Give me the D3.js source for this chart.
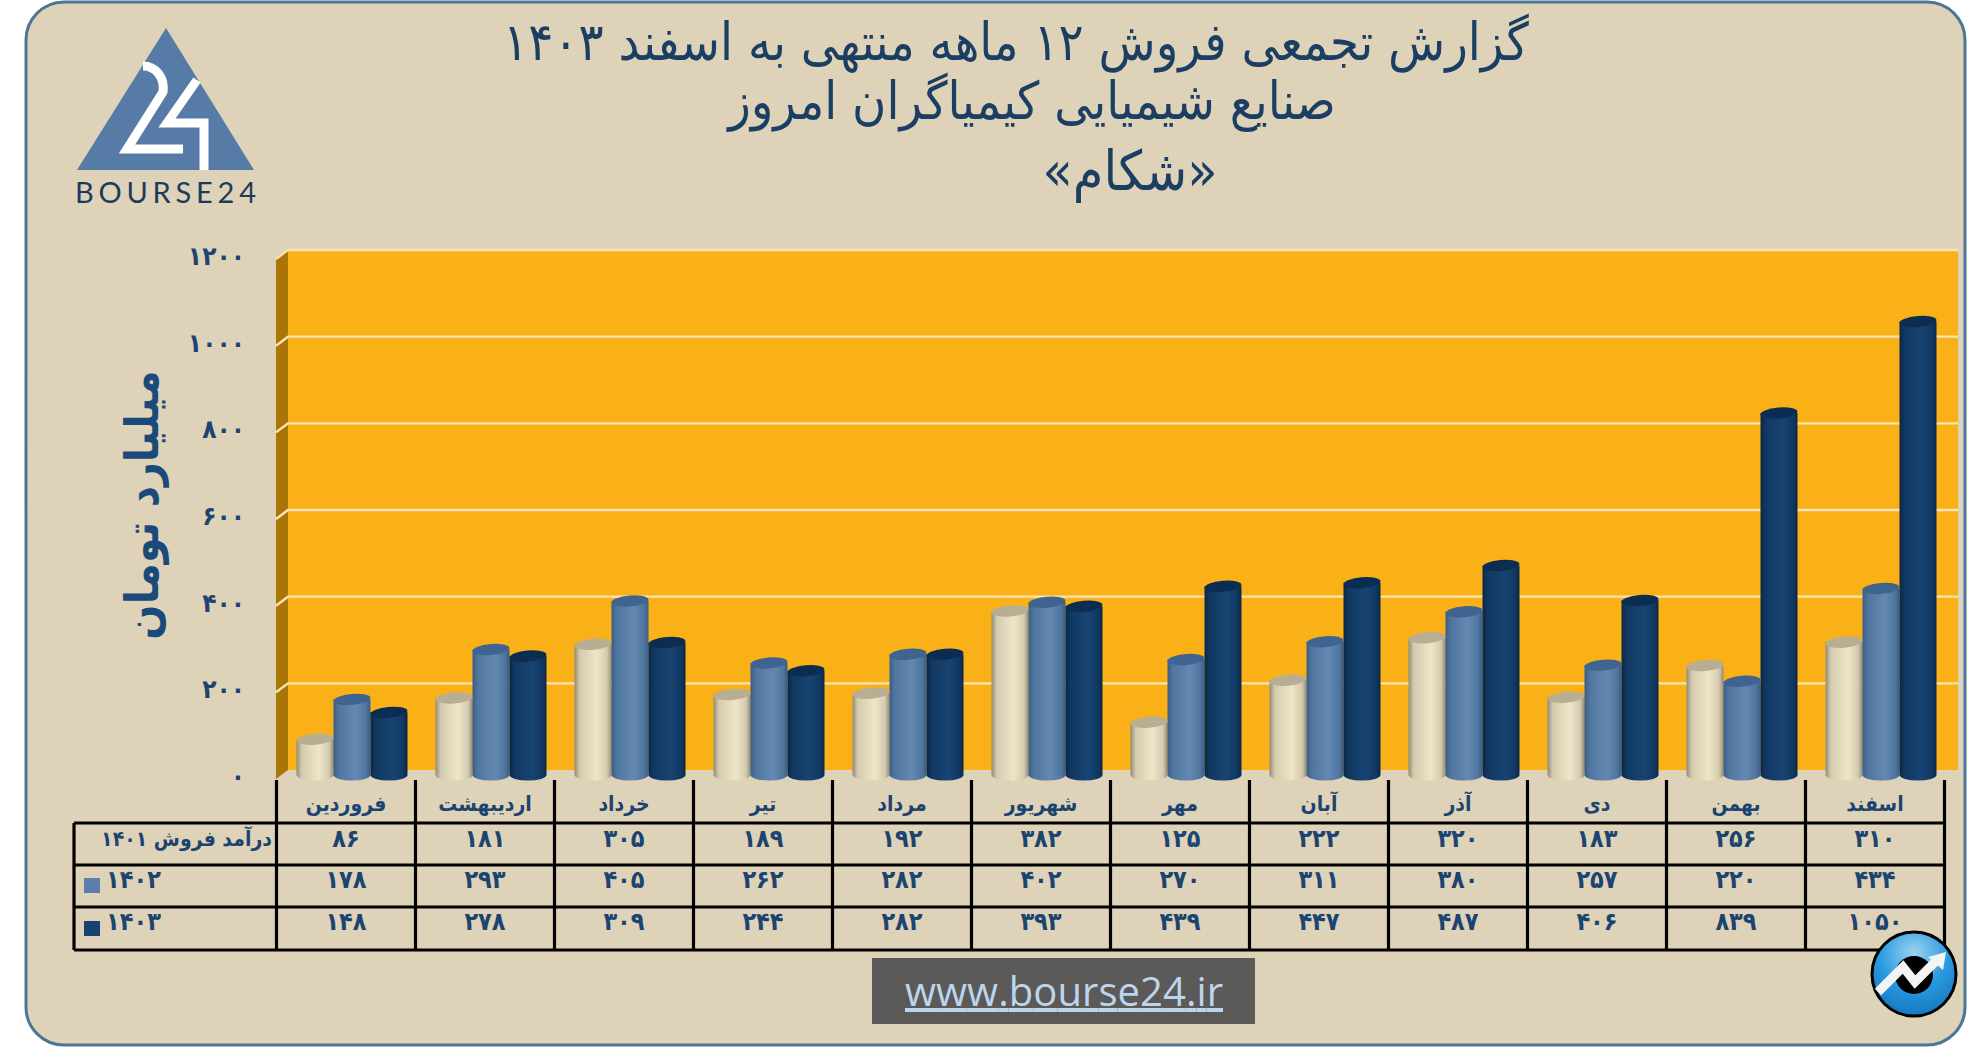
<!DOCTYPE html>
<html lang="fa">
<head>
<meta charset="UTF-8">
<script src="https://d3js.org/d3.v7.min.js"></script>
<style>
  html, body { margin: 0; padding: 0; background: #fff; }
  svg { display: block; }
  text { font-family: "DejaVu Sans Condensed", "DejaVu Sans", sans-serif; }
</style>
</head>
<body>
<script>
// values from the table under the chart
var months = ["فروردین","اردیبهشت","خرداد","تیر","مرداد","شهریور","مهر","آبان","آذر","دی","بهمن","اسفند"];
var sales1401 = [86,181,305,189,192,382,125,222,320,183,256,310];
var sales1402 = [178,293,405,262,282,402,270,311,380,257,220,434];
var sales1403 = [148,278,309,244,282,393,439,447,487,406,839,1050];
var yTicks = [0,200,400,600,800,1000,1200];
var titleLines = ["گزارش تجمعی فروش ۱۲ ماهه منتهی به اسفند ۱۴۰۳","صنایع شیمیایی کیمیاگران امروز","«شکام»"];
var rowLabels = ["درآمد فروش ۱۴۰۱","۱۴۰۲","۱۴۰۳"];
var rows = [sales1401, sales1402, sales1403];

function fa(n) {
  return String(n).replace(/\d/g, function (d) { return "۰۱۲۳۴۵۶۷۸۹"[+d]; });
}

var W = 1986, H = 1047, ink = "#1c4470";
var svg = d3.select("body").append("svg").attr("width", W).attr("height", H);
var defs = svg.append("defs");

function barGradient(id, edge, mid, light) {
  var g = defs.append("linearGradient").attr("id", id);
  [[0, edge],[0.14, mid],[0.6, light],[0.88, mid],[1, edge]].forEach(function (s) {
    g.append("stop").attr("offset", s[0]).attr("stop-color", s[1]);
  });
}
barGradient("g0", "#8f8b78", "#d4cbae", "#efe6c9");
barGradient("g1", "#3a5c88", "#4f769f", "#6488b2");
barGradient("g2", "#0b2745", "#113862", "#184472");

// frame
svg.append("rect").attr("x", 26).attr("y", 2).attr("width", 1939).attr("height", 1043).attr("rx", 38)
  .attr("fill", "#ded3b8").attr("stroke", "#4b7695").attr("stroke-width", 3);

// scales: wall sits behind the bars, side wall front edge ahead of them
var x = d3.scaleBand().domain(d3.range(12)).range([276.5, 1944.5]);
var y = d3.scaleLinear().domain([0, 1200]).range([775, 255]);
var wallDy = -5, frontDy = 4, barDy = 1.5;
var wallLeft = 288, wallRight = 1958, sideLeft = 276;

// plot wall
svg.append("rect").attr("x", wallLeft).attr("y", y(1200) + wallDy).attr("width", wallRight - wallLeft)
  .attr("height", y(0) - y(1200)).attr("fill", "#fab118");
svg.append("polygon").attr("fill", "#a97507")
  .attr("points", [[sideLeft, y(1200) + frontDy],[wallLeft, y(1200) + wallDy],[wallLeft, y(0) + wallDy],[sideLeft, y(0) + frontDy]].join(" "));

// gridlines
var grid = svg.append("g");
grid.selectAll("path").data(yTicks.filter(function (d) { return d > 0; })).join("path")
  .attr("fill", "none").attr("stroke", "#fbe3b3").attr("stroke-width", 2.4)
  .attr("d", function (d) {
    return "M" + sideLeft + "," + (y(d) + frontDy) + "L" + wallLeft + "," + (y(d) + wallDy) + "L" + wallRight + "," + (y(d) + wallDy);
  });

// tick labels
svg.append("g").selectAll("text").data(yTicks).join("text")
  .attr("x", 245).attr("y", function (d) { return y(d) + frontDy - 3; })
  .attr("text-anchor", "end").attr("dominant-baseline", "central")
  .attr("font-size", 26).attr("font-weight", "bold").attr("fill", ink)
  .text(function (d) { return fa(d); });

svg.append("text").attr("transform", "translate(142,505) rotate(-90)").attr("text-anchor", "middle")
  .attr("dominant-baseline", "central").attr("font-size", 46).attr("font-weight", "bold").attr("fill", "#1a4a7a")
  .attr("direction", "rtl").text("میلیارد تومان");

// cylinders
var barW = 37, ry = 5.5;
var series = [sales1401, sales1402, sales1403];
var tops = ["#b8ae94", "#3f6490", "#0b2d52"];
var flat = [];
series.forEach(function (vals, s) {
  vals.forEach(function (v, i) { flat.push({ s: s, i: i, v: v }); });
});
var barX = function (d) { return x(d.i) + 20 + d.s * barW; };
var barG = svg.append("g");
barG.selectAll("path.body").data(flat).join("path").attr("class", "body")
  .attr("fill", function (d) { return "url(#g" + d.s + ")"; })
  .attr("d", function (d) {
    var l = barX(d), r = l + barW;
    return "M" + l + "," + (y(d.v) + barDy) + "L" + l + "," + y(0)
      + "A" + barW / 2 + "," + ry + " 0 0 0 " + r + "," + y(0)
      + "L" + r + "," + (y(d.v) + barDy) + "Z";
  });
barG.selectAll("ellipse").data(flat).join("ellipse")
  .attr("cx", function (d) { return barX(d) + barW / 2; })
  .attr("cy", function (d) { return y(d.v) + barDy; })
  .attr("rx", barW / 2).attr("ry", ry)
  .attr("fill", function (d) { return tops[d.s]; })
  .attr("transform", function (d) { return "rotate(-5 " + (barX(d) + barW / 2) + " " + (y(d.v) + barDy) + ")"; });

// table
var rowY = [823, 865, 907, 950], tableLeft = 74;
var table = svg.append("g").attr("stroke", "#000").attr("stroke-width", 3.2);
x.domain().concat([12]).forEach(function (i) {
  var px = i < 12 ? x(i) : x.range()[1];
  table.append("line").attr("x1", px).attr("x2", px).attr("y1", 780).attr("y2", rowY[3]);
});
rowY.forEach(function (ry2) {
  table.append("line").attr("x1", tableLeft).attr("x2", x.range()[1]).attr("y1", ry2).attr("y2", ry2);
});
table.append("line").attr("x1", tableLeft).attr("x2", tableLeft).attr("y1", rowY[0]).attr("y2", rowY[3]);

svg.append("g").selectAll("text").data(months).join("text")
  .attr("x", function (d, i) { return x(i) + x.bandwidth() / 2; }).attr("y", 804)
  .attr("text-anchor", "middle").attr("dominant-baseline", "central").attr("direction", "rtl")
  .attr("font-size", 21).attr("font-weight", "bold").attr("fill", ink).text(function (d) { return d; });

var rowTextY = [838, 879, 921];
rows.forEach(function (vals, r) {
  svg.append("g").selectAll("text").data(vals).join("text")
    .attr("x", function (d, i) { return x(i) + x.bandwidth() / 2; }).attr("y", rowTextY[r])
    .attr("text-anchor", "middle").attr("dominant-baseline", "central")
    .attr("font-size", 25).attr("font-weight", "bold").attr("fill", ink).text(function (d) { return fa(d); });
});
svg.append("text").attr("x", 272).attr("y", 839).attr("text-anchor", "start").attr("direction", "rtl")
  .attr("dominant-baseline", "central").attr("font-size", 21).attr("font-weight", "bold").attr("fill", ink).text(rowLabels[0]);
[1, 2].forEach(function (r) {
  svg.append("text").attr("x", 106).attr("y", rowTextY[r]).attr("dominant-baseline", "central")
    .attr("font-size", 25).attr("font-weight", "bold").attr("fill", ink).text(rowLabels[r]);
  svg.append("rect").attr("x", 84).attr("y", r == 1 ? 878 : 921).attr("width", 16).attr("height", 15)
    .attr("fill", r == 1 ? "#5a7fae" : "#154273");
});

// title
var titleY = [42, 101, 171], titleX = [1016, 1032, 1130], titleSize = [52, 52, 55];
titleLines.forEach(function (t, i) {
  svg.append("text").attr("x", titleX[i]).attr("y", titleY[i]).attr("text-anchor", "middle").attr("direction", "rtl")
    .attr("dominant-baseline", "central").attr("font-size", titleSize[i]).attr("fill", "#1b3f63").text(t);
});

// logo
svg.append("polygon").attr("points", "166,28 77,170 254,170").attr("fill", "#557ba6");
svg.append("path").attr("fill", "none").attr("stroke", "#fff").attr("stroke-width", 9)
  .attr("d", "M143,66C156,66 165,78 163,92L127,149H183");
svg.append("path").attr("fill", "none").attr("stroke", "#fff").attr("stroke-width", 9)
  .attr("d", "M197,80L167,123H204V170");
svg.append("text").attr("x", 75).attr("y", 203).attr("textLength", 181).style("font-size", "29px")
  .style("font-family", "Lato").attr("fill", "#1d3a5c").text("BOURSE24");

// site box
svg.append("rect").attr("x", 872).attr("y", 958).attr("width", 383).attr("height", 66).attr("fill", "#5b5a58");
svg.append("text").attr("x", 905).attr("y", 1006).attr("textLength", 318).style("font-size", "40px")
  .style("font-family", "Open Sans").attr("text-decoration", "underline").attr("fill", "#bcd5ec").text("www.bourse24.ir");

// badge
var bg = defs.append("radialGradient").attr("id", "badge").attr("cy", "25%").attr("r", "75%");
bg.append("stop").attr("offset", 0).attr("stop-color", "#9cd3ef");
bg.append("stop").attr("offset", 0.55).attr("stop-color", "#2a9ae0");
bg.append("stop").attr("offset", 1).attr("stop-color", "#1578c0");
svg.append("circle").attr("cx", 1914).attr("cy", 974).attr("r", 42).attr("fill", "url(#badge)").attr("stroke", "#000").attr("stroke-width", 3);
svg.append("circle").attr("cx", 1914).attr("cy", 975).attr("r", 19).attr("fill", "#000");
svg.append("path").attr("fill", "none").attr("stroke", "#f4f4f4").attr("stroke-width", 9)
  .attr("d", "M1878,992L1903,967L1915,982L1938,959");
svg.append("polygon").attr("fill", "#f4f4f4").attr("points", "1946,952 1928,957 1943,970");
</script>
</body>
</html>
